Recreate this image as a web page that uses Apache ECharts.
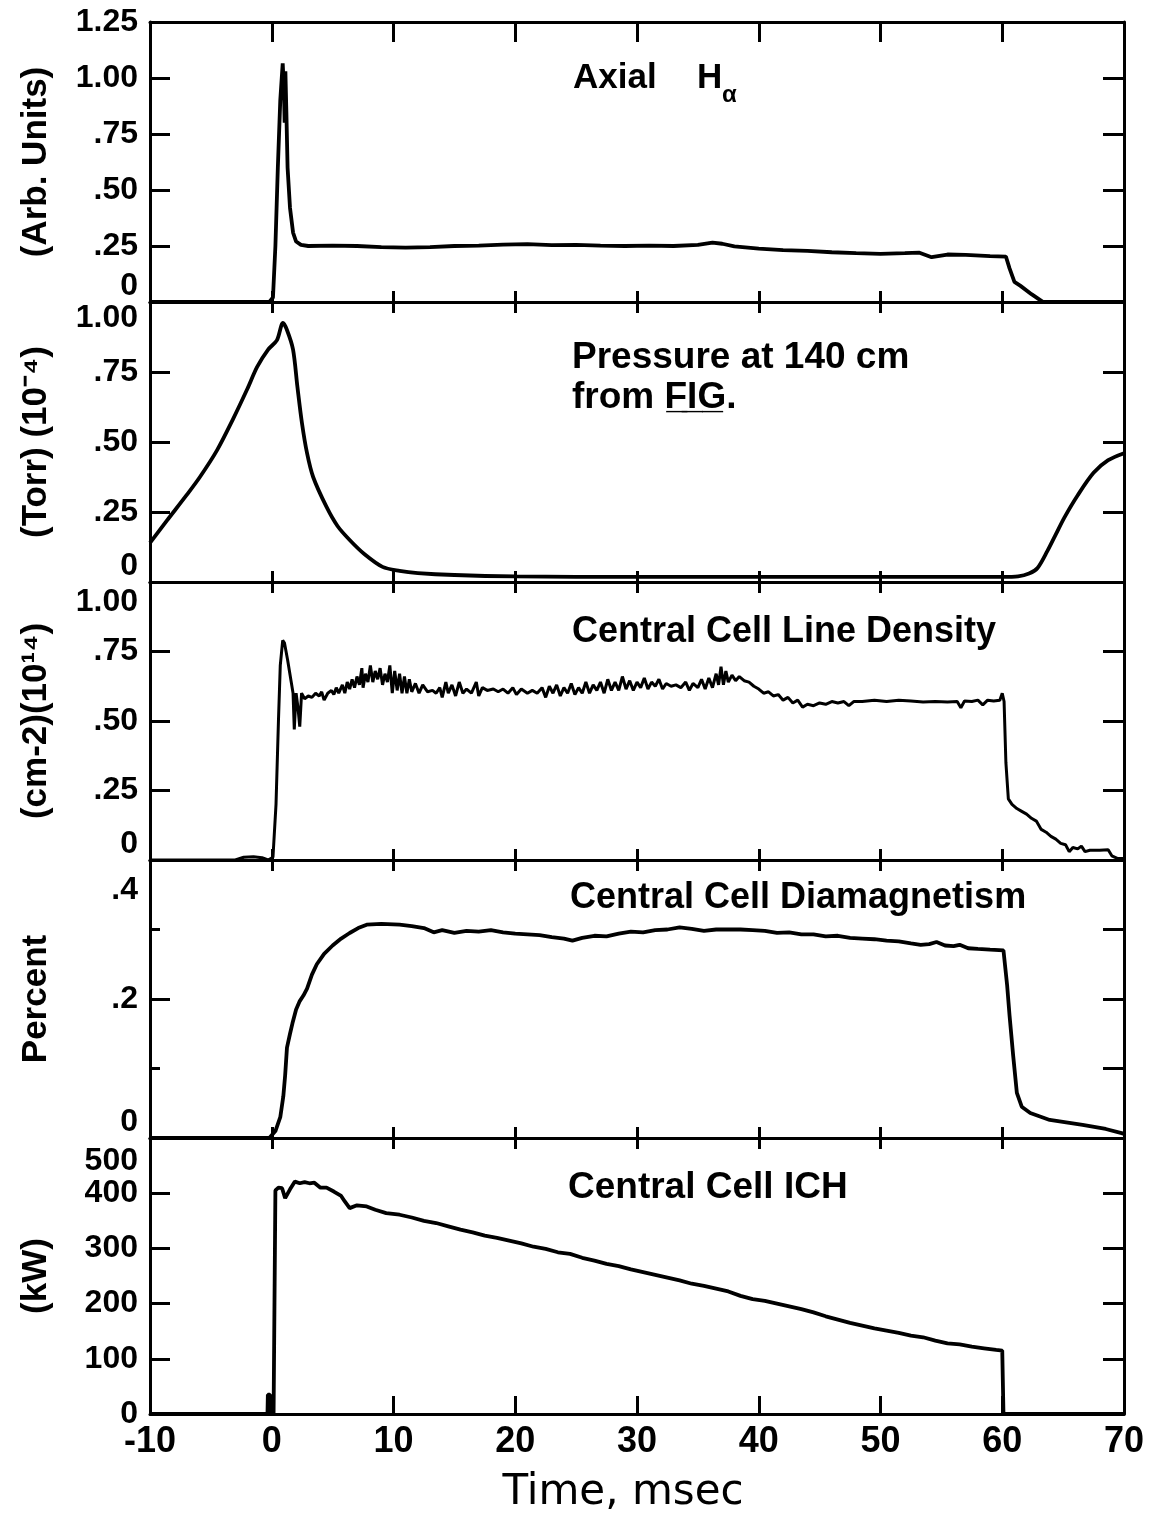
<!DOCTYPE html>
<html>
<head>
<meta charset="utf-8">
<script src="https://cdn.jsdelivr.net/npm/echarts@6/dist/echarts.min.js"></script>
<style>
html,body{margin:0;padding:0;background:#fff;}
#chart{width:1152px;height:1526px;}
</style>
</head>
<body>
<div id="chart"></div>
<script>
// ---------- data (time in msec) ----------
const xTickLabels = ['-10','0','10','20','30','40','50','60','70'];

const haTicks = ['0', '.25', '.50', '.75', '1.00', '1.25'];
const pressTicks = ['0', '.25', '.50', '.75', '1.00'];
const densTicks = ['0', '.25', '.50', '.75', '1.00'];
const diaTicks = ['0', '.2', '.4'];
const ichTicks = ['0', '100', '200', '300', '400', '500'];

const axialHalpha = [[-10,0],[-0.2,0],[0.1,0.02],[0.3,0.25],[0.5,0.6],[0.7,0.9],[0.9,1.065],[1.0,0.95],[1.06,0.8],[1.12,1.03],[1.2,0.85],[1.3,0.6],[1.5,0.42],[1.75,0.31],[2.0,0.27],[2.4,0.255],[3,0.25],[5,0.252],[7,0.25],[9,0.245],[11,0.243],[13,0.245],[15,0.25],[17,0.252],[19,0.256],[21,0.258],[23,0.254],[25,0.255],[27,0.252],[29,0.25],[31,0.252],[33,0.25],[35,0.255],[36.2,0.265],[37,0.26],[38,0.248],[40,0.238],[42,0.232],[44,0.228],[46,0.222],[48,0.218],[50,0.215],[52,0.218],[53.2,0.22],[54.2,0.2],[55.5,0.212],[57,0.21],[59,0.205],[60.3,0.203],[60.6,0.15],[61,0.09],[61.5,0.072],[62.4,0.035],[63.3,0.002],[70,0]];

const pressure = [[-10,0.14],[-8.6,0.22],[-7,0.31],[-5.9,0.375],[-4.5,0.47],[-3.2,0.58],[-2,0.69],[-1.2,0.768],[-0.3,0.83],[0.43,0.864],[0.92,0.925],[1.25,0.9],[1.75,0.83],[2.1,0.7],[2.48,0.568],[2.9,0.46],[3.4,0.375],[4.5,0.268],[5.4,0.2],[6.4,0.15],[7.6,0.1],[9.1,0.054],[10.5,0.04],[12,0.032],[15,0.025],[20,0.02],[30,0.018],[40,0.018],[50,0.018],[60,0.018],[61.3,0.02],[62.2,0.03],[62.9,0.05],[63.7,0.11],[64.4,0.17],[65.1,0.23],[66.2,0.31],[67.5,0.39],[68.7,0.435],[70,0.46]];

const lineDensity = [[-10,0],[-3,0],[-2.3,0.01],[-1.5,0.012],[-0.8,0.008],[-0.3,0],[0.1,0.01],[0.35,0.2],[0.55,0.5],[0.7,0.7],[0.9,0.79],[1.05,0.78],[1.3,0.72],[1.6,0.64],[1.75,0.6],[1.85,0.47],[2.0,0.6],[2.15,0.55],[2.3,0.48],[2.45,0.6],[2.7,0.58],[3.0,0.59],[3.3,0.585],[3.6,0.6],[3.9,0.59],[4.1,0.605],[4.3,0.575],[4.6,0.6],[4.9,0.61],[5.1,0.595],[5.3,0.62],[5.5,0.6],[5.8,0.63],[6.0,0.6],[6.2,0.64],[6.4,0.615],[6.6,0.65],[6.8,0.62],[7.0,0.66],[7.2,0.63],[7.4,0.69],[7.5,0.62],[7.7,0.67],[7.9,0.64],[8.1,0.7],[8.3,0.64],[8.5,0.68],[8.7,0.65],[8.9,0.69],[9.1,0.63],[9.3,0.67],[9.5,0.64],[9.7,0.7],[9.9,0.6],[10.1,0.68],[10.3,0.61],[10.5,0.67],[10.7,0.6],[10.9,0.66],[11.1,0.6],[11.3,0.65],[11.5,0.605],[11.8,0.635],[12.1,0.6],[12.4,0.63],[12.8,0.605],[13.2,0.61],[13.5,0.6],[13.8,0.62],[14.0,0.585],[14.3,0.64],[14.5,0.6],[14.8,0.63],[15.1,0.59],[15.4,0.64],[15.7,0.6],[16.0,0.615],[16.4,0.6],[16.8,0.64],[17.0,0.59],[17.3,0.62],[17.7,0.61],[18.2,0.615],[18.6,0.605],[19.0,0.615],[19.4,0.6],[19.8,0.62],[20.1,0.595],[20.5,0.615],[21.0,0.6],[21.4,0.61],[21.8,0.6],[22.2,0.62],[22.5,0.585],[22.8,0.625],[23.1,0.6],[23.4,0.63],[23.7,0.59],[24.0,0.62],[24.3,0.6],[24.6,0.635],[24.9,0.595],[25.2,0.62],[25.5,0.6],[25.8,0.64],[26.1,0.6],[26.4,0.63],[26.7,0.61],[27.0,0.64],[27.3,0.6],[27.6,0.65],[27.9,0.61],[28.2,0.64],[28.5,0.61],[28.8,0.66],[29.1,0.615],[29.4,0.645],[29.7,0.61],[30.0,0.64],[30.3,0.62],[30.6,0.655],[30.9,0.615],[31.2,0.64],[31.5,0.625],[31.8,0.65],[32.1,0.615],[32.4,0.635],[32.8,0.625],[33.2,0.63],[33.6,0.62],[34.0,0.64],[34.3,0.61],[34.6,0.635],[35.0,0.62],[35.3,0.65],[35.6,0.615],[35.9,0.655],[36.2,0.62],[36.5,0.67],[36.7,0.63],[36.9,0.695],[37.1,0.63],[37.3,0.68],[37.5,0.64],[37.8,0.665],[38.1,0.645],[38.4,0.66],[38.8,0.645],[39.2,0.64],[39.6,0.625],[40.0,0.615],[40.4,0.6],[40.8,0.605],[41.2,0.59],[41.6,0.595],[42.0,0.575],[42.4,0.585],[42.8,0.565],[43.2,0.575],[43.6,0.55],[44.0,0.56],[44.5,0.555],[45.0,0.565],[45.5,0.56],[46.0,0.57],[46.5,0.565],[47.0,0.57],[47.4,0.555],[47.8,0.57],[48.5,0.57],[49.5,0.575],[50.5,0.57],[51.5,0.575],[52.5,0.572],[53.5,0.568],[54.5,0.57],[55.5,0.568],[56.3,0.57],[56.6,0.548],[56.9,0.572],[57.5,0.57],[58.0,0.575],[58.4,0.558],[58.8,0.575],[59.3,0.572],[59.8,0.575],[60.0,0.6],[60.15,0.57],[60.3,0.35],[60.5,0.22],[60.8,0.2],[61.2,0.185],[61.6,0.175],[62.0,0.165],[62.4,0.15],[62.8,0.14],[63.2,0.11],[63.6,0.1],[64.0,0.085],[64.4,0.075],[64.8,0.06],[65.2,0.055],[65.5,0.03],[65.8,0.045],[66.2,0.04],[66.5,0.05],[66.8,0.03],[67.2,0.035],[68.0,0.035],[68.7,0.037],[69.0,0.015],[69.5,0.005],[70,0.005]];

const diamagnetism = [[-10,0],[-0.2,0],[0.3,0.01],[0.7,0.03],[0.95,0.06],[1.1,0.09],[1.25,0.13],[1.5,0.15],[1.7,0.165],[2.0,0.185],[2.3,0.197],[2.6,0.205],[2.9,0.215],[3.3,0.235],[3.7,0.25],[4.3,0.265],[5.0,0.277],[5.7,0.287],[6.4,0.295],[7.1,0.302],[7.8,0.307],[9,0.308],[10.5,0.307],[11.5,0.305],[12.5,0.302],[13.3,0.296],[14,0.299],[15,0.295],[16,0.298],[17,0.297],[18,0.299],[19,0.296],[20,0.294],[21,0.293],[22,0.292],[23,0.289],[24,0.287],[24.7,0.284],[25.5,0.288],[26.5,0.291],[27.5,0.29],[28.5,0.294],[29.5,0.297],[30.5,0.296],[31.5,0.299],[32.5,0.3],[33.5,0.303],[34.5,0.301],[35.5,0.298],[36.5,0.3],[37.5,0.3],[38.5,0.3],[39.5,0.299],[40.5,0.298],[41.5,0.295],[42.5,0.296],[43.5,0.293],[44.5,0.293],[45.5,0.29],[46.5,0.291],[47.5,0.288],[48.5,0.287],[49.5,0.286],[50.5,0.284],[51.5,0.283],[52.5,0.28],[53.3,0.278],[54,0.279],[54.6,0.282],[55.3,0.277],[56,0.276],[56.5,0.278],[57.2,0.273],[58,0.272],[59,0.271],[60.1,0.27],[60.4,0.22],[60.6,0.176],[60.9,0.118],[61.2,0.065],[61.6,0.045],[62.3,0.036],[63.9,0.026],[66.6,0.019],[68.5,0.013],[69.8,0.007],[70,0.006]];

const ichPower = [[-10,0],[-0.35,0],[-0.32,35],[-0.15,35],[-0.1,0],[0.15,0],[0.3,405],[0.55,410],[0.85,409],[1.1,391],[1.5,407],[1.9,421],[2.3,418],[2.7,420],[3.1,418],[3.5,419],[4.0,410],[4.5,410],[5.1,403],[5.7,395],[6.0,385],[6.4,373],[7.0,378],[7.8,376],[8.5,370],[9.4,364],[10.5,361],[11.5,356],[12.5,350],[13.5,346],[14.5,340],[15.5,334],[16.5,329],[17.5,323],[18.5,319],[19.5,314],[20.5,309],[21.5,303],[22.5,299],[23.5,293],[24.5,290],[25.5,283],[26.5,278],[27.5,272],[28.5,268],[29.5,262],[30.5,257],[31.5,252],[32.5,247],[33.5,242],[34.5,236],[35.5,232],[36.5,227],[37.5,222],[38.5,214],[39.5,208],[40.5,205],[41.5,200],[42.5,195],[43.5,190],[44.5,184],[45.5,177],[46.5,171],[47.5,165],[48.5,160],[49.5,155],[50.5,151],[51.5,147],[52.5,142],[53.5,139],[54.5,133],[55.5,128],[56.5,126],[57.5,122],[58.5,119],[59.5,116],[60.0,115],[60.1,0],[70,0]];

// ---------- layout ----------
const FONT = 'Liberation Sans';
const TITLEFONT = 'DejaVu Sans';
const grids = [
  {top: 22, height: 280},
  {top: 302, height: 280},
  {top: 582, height: 278},
  {top: 860, height: 278},
  {top: 1138, height: 276}
];
const panels = [
  {data: axialHalpha, min: 0, max: 1.25, interval: 0.25, ticks: haTicks, name: '(Arb. Units)', minVA: 'bottom', maxVA: 'middle', maxPad: 0},
  {data: pressure, min: 0, max: 1.0, interval: 0.25, ticks: pressTicks, name: '(Torr) (10\u207B\u2074)', minVA: 'bottom', maxVA: 'top', smooth: true, maxPad: 0},
  {data: lineDensity, min: 0, max: 1.0, interval: 0.25, ticks: densTicks, name: '(cm-2)(10\u00B9\u2074)', minVA: 'bottom', maxVA: 'top', lw: 3, maxPad: 4},
  {data: diamagnetism, min: 0, max: 0.4, interval: 0.2, ticks: diaTicks, name: 'Percent', minVA: 'bottom', maxVA: 'top', minor: true, rInterval: 0.1, maxPad: 14},
  {data: ichPower, min: 0, max: 500, interval: 100, ticks: ichTicks, name: '(kW)', minVA: 'middle', maxVA: 'top', maxPad: 7}
];

const lineStyleAxis = {color: '#000', width: 3};
const xAxes = [], yAxes = [], series = [];
panels.forEach((p, i) => {
  xAxes.push({
    gridIndex: i, type: 'value', min: -10, max: 70, interval: 10, position: 'bottom',
    axisLine: {show: true, onZero: false, lineStyle: lineStyleAxis},
    axisTick: {show: true, inside: true, length: i === 4 ? 18 : 11, lineStyle: lineStyleAxis},
    splitLine: {show: false},
    axisLabel: {show: i === 4, showMinLabel: true, showMaxLabel: true, color: '#000', fontFamily: FONT, fontWeight: 'bold', fontSize: 36, margin: 10,
      formatter: v => xTickLabels[Math.round((v + 10) / 10)]},
    name: i === 4 ? 'Time, msec' : '',
    nameLocation: 'middle', nameGap: 58,
    nameTextStyle: {color: '#000', fontFamily: TITLEFONT, fontSize: 42, padding: [0, 28, 0, 0]}
  });
  xAxes.push({
    gridIndex: i, type: 'value', min: -10, max: 70, interval: 10, position: 'top',
    axisLine: {show: true, onZero: false, lineStyle: lineStyleAxis},
    axisTick: {show: true, inside: true, length: i === 0 ? 20 : 11, lineStyle: lineStyleAxis},
    splitLine: {show: false}, axisLabel: {show: false}
  });
  const nTicks = p.ticks.length;
  yAxes.push({
    gridIndex: i, type: 'value', min: p.min, max: p.max, interval: p.interval, position: 'left',
    axisLine: {show: true, onZero: false, lineStyle: lineStyleAxis},
    axisTick: {show: true, inside: true, length: 20, lineStyle: lineStyleAxis},
    minorTick: {show: !!p.minor, splitNumber: 2, length: 10, lineStyle: lineStyleAxis},
    splitLine: {show: false}, minorSplitLine: {show: false},
    axisLabel: {color: '#000', fontFamily: FONT, fontWeight: 'bold', fontSize: 32, margin: 12,
      showMinLabel: true, showMaxLabel: true, hideOverlap: false,
      verticalAlignMinLabel: p.minVA, verticalAlignMaxLabel: p.maxVA,
      rich: {top: {fontFamily: FONT, fontWeight: 'bold', fontSize: 32, color: '#000', padding: [p.maxPad, 0, 0, 0]}},
      formatter: v => {
        const k = Math.round((v - p.min) / p.interval);
        return k === nTicks - 1 ? '{top|' + p.ticks[k] + '}' : p.ticks[k];
      }},
    name: p.name, nameLocation: 'middle', nameRotate: 90, nameGap: 96,
    nameTextStyle: {color: '#000', fontFamily: FONT, fontWeight: 'bold', fontSize: 35}
  });
  yAxes.push({
    gridIndex: i, type: 'value', min: p.min, max: p.max, interval: p.rInterval || p.interval, position: 'right',
    axisLine: {show: true, onZero: false, lineStyle: lineStyleAxis},
    axisTick: {show: true, inside: true, length: 21, lineStyle: lineStyleAxis},
    splitLine: {show: false}, axisLabel: {show: false}
  });
  series.push({
    type: 'line', xAxisIndex: i * 2, yAxisIndex: i * 2, data: p.data,
    showSymbol: false, symbol: 'none', smooth: p.smooth ? 0.3 : false,
    lineStyle: {color: '#000', width: p.lw || 3.8}, silent: true, animation: false
  });
});

const txt = (x, y, text, size) => ({
  type: 'text', x: x, y: y, silent: true,
  style: {text: text, fill: '#000', fontFamily: FONT, fontWeight: 'bold', fontSize: size, verticalAlign: 'middle', textVerticalAlign: 'middle'}
});

const option = {
  backgroundColor: '#fff',
  animation: false,
  grid: grids.map(g => ({left: 150, width: 974, top: g.top, height: g.height, containLabel: false})),
  xAxis: xAxes,
  yAxis: yAxes,
  series: series,
  graphic: [
    txt(573, 78, 'Axial', 35),
    txt(697, 78, 'H', 35),
    txt(722, 95, '\u03B1', 24),
    txt(572, 358, 'Pressure at 140 cm', 37),
    txt(572, 398, 'from F\u0332I\u0332G\u0332.', 37),
    txt(572, 632, 'Central Cell Line Density', 36),
    txt(570, 898, 'Central Cell Diamagnetism', 36),
    txt(568, 1188, 'Central Cell ICH', 37)
  ]
};
const chart = echarts.init(document.getElementById('chart'), null, {renderer: 'canvas'});
chart.setOption(option);
</script>
</body>
</html>
